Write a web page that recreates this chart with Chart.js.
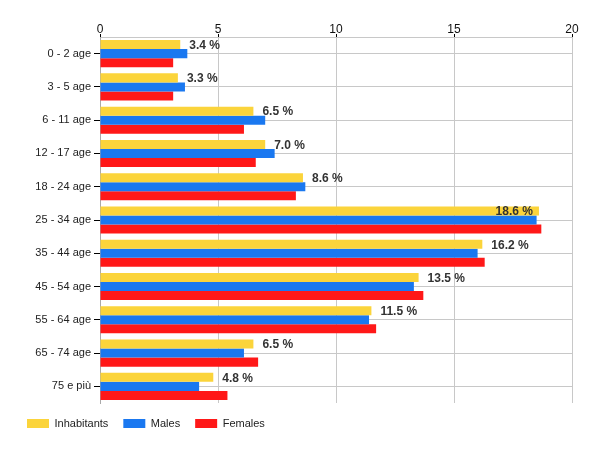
<!DOCTYPE html>
<html>
<head>
<meta charset="utf-8">
<script src="https://cdn.jsdelivr.net/npm/chart.js@4/dist/chart.umd.min.js"></script>
<style>
    body { margin: 0; background: #fff; }
    #wrap { width: 600px; height: 450px; position: relative; }
</style>
</head>
<body>
<div id="wrap"><canvas id="ageChart"></canvas></div>
<script>
// ==========================================
// 1. DATA
// ==========================================
const ageGroups = ["0 - 2 age", "3 - 5 age", "6 - 11 age", "12 - 17 age", "18 - 24 age", "25 - 34 age",
                   "35 - 44 age", "45 - 54 age", "55 - 64 age", "65 - 74 age", "75 e più"];
const inhabitants = [3.4, 3.3, 6.5, 7.0, 8.6, 18.6, 16.2, 13.5, 11.5, 6.5, 4.8];
const males       = [3.7, 3.6, 7.0, 7.4, 8.7, 18.5, 16.0, 13.3, 11.4, 6.1, 4.2];
const females     = [3.1, 3.1, 6.1, 6.6, 8.3, 18.7, 16.3, 13.7, 11.7, 6.7, 5.4];
const seriesNames = ["Inhabitants", "Males", "Females"];
const xMin = 0, xMax = 20, xStep = 5;

const FONT = "'Liberation Sans', Arial, sans-serif";
const GRID = "#c8c8c8";

// ==========================================
// 2. PERCENT LABELS NEXT TO THE YELLOW BARS
// ==========================================
const valueLabels = {
    id: "valueLabels",
    afterDatasetsDraw(chart) {
        const ctx = chart.ctx;
        const area = chart.chartArea;
        const meta = chart.getDatasetMeta(0);
        ctx.save();
        ctx.font = "bold 12px " + FONT;
        ctx.fillStyle = "#333";
        ctx.textBaseline = "middle";
        meta.data.forEach((bar, i) => {
            const txt = inhabitants[i].toFixed(1) + " %";
            const w = ctx.measureText(txt).width;
            let x = bar.x + 9;
            if (x + w > area.right) x = bar.x - w - 6;
            ctx.fillText(txt, x, bar.y + 1);
        });
        ctx.restore();
    }
};

// ==========================================
// 3. CHART
// ==========================================
new Chart(document.getElementById("ageChart"), {
    type: "bar",
    data: {
        labels: ageGroups,
        datasets: [
            { label: seriesNames[0], data: inhabitants, backgroundColor: "#fbd43b" },
            { label: seriesNames[1], data: males, backgroundColor: "#1a78f0" },
            { label: seriesNames[2], data: females, backgroundColor: "#ff1818" }
        ]
    },
    options: {
        indexAxis: "y",
        responsive: true,
        maintainAspectRatio: false,
        animation: false,
        datasets: { bar: { categoryPercentage: 0.814, barPercentage: 1.0, borderWidth: 0 } },
        layout: { padding: { left: 12, right: 28, top: 0, bottom: 11 } },
        scales: {
            x: {
                position: "top",
                min: xMin, max: xMax,
                ticks: { stepSize: xStep, color: "#111", font: { family: FONT, size: 12 }, padding: -3 },
                grid: { color: GRID, tickColor: "#000", tickLength: 3 },
                border: { color: GRID },
                afterFit: scale => { scale.height = 37; }
            },
            y: {
                offset: true,
                ticks: { color: "#222", font: { family: FONT, size: 11 }, padding: 3 },
                grid: { offset: false, color: GRID, tickColor: "#000", tickLength: 6 },
                border: { color: "#aaa" },
                afterFit: scale => { scale.width = 88; }
            }
        },
        plugins: {
            legend: {
                position: "bottom",
                align: "start",
                labels: {
                    boxWidth: 22, boxHeight: 9, padding: 15,
                    color: "#222", font: { family: FONT, size: 11 }
                }
            },
            tooltip: { enabled: false }
        }
    },
    plugins: [valueLabels]
});
</script>
</body>
</html>
